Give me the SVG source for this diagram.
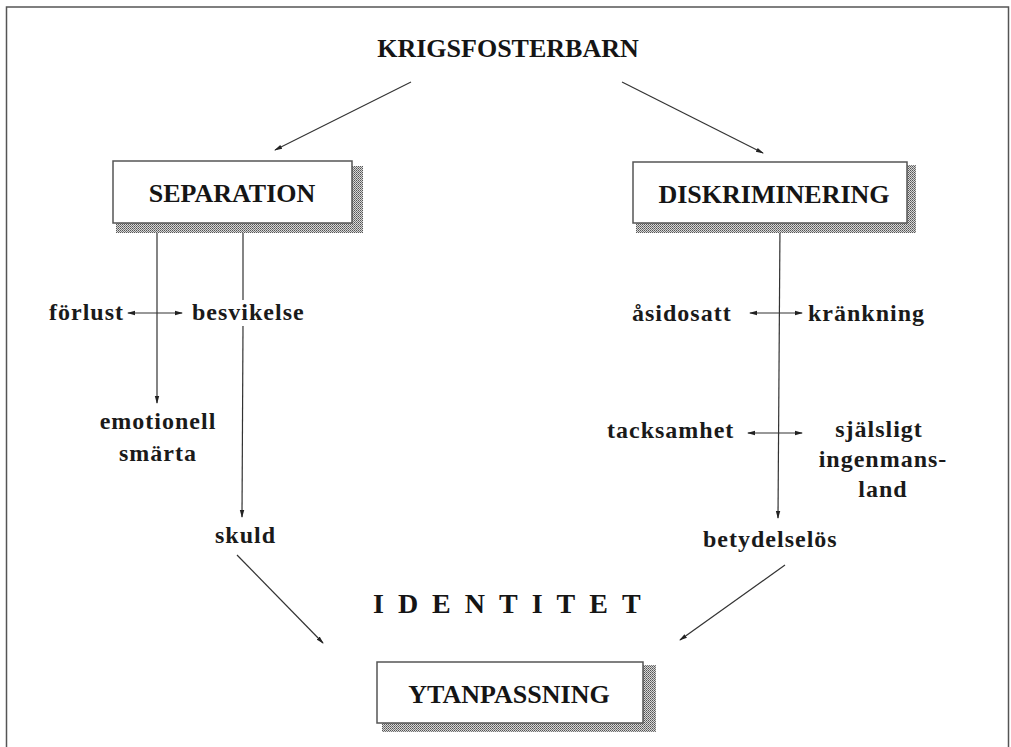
<svg xmlns="http://www.w3.org/2000/svg" width="1011" height="747" viewBox="0 0 1011 747">
<style>
.cap{font-family:"Liberation Serif","Times New Roman",serif;font-weight:bold;font-size:26px;fill:#151515}
.lbl{font-family:"Liberation Serif","Times New Roman",serif;font-weight:bold;font-size:24px;letter-spacing:1px;fill:#1a1a1a}
.box{fill:#fff;stroke:#555;stroke-width:1.5}
.shadow{fill:url(#stip)}
.con{stroke:#333;stroke-width:1.2;fill:none}
.arr{marker-end:url(#ah)}
.dbl{marker-start:url(#ahs);marker-end:url(#ah)}
</style>
<defs>
<pattern id="stip" width="2" height="2" patternUnits="userSpaceOnUse">
<rect width="2" height="2" fill="#d8d8d8"/>
<rect width="1" height="1" fill="#555"/>
<rect x="1" y="1" width="1" height="1" fill="#777"/>
</pattern>
<marker id="ah" viewBox="0 0 8 6" refX="7" refY="3" markerWidth="8" markerHeight="6" markerUnits="userSpaceOnUse" orient="auto">
<path d="M0,0.8 L8,3 L0,5.2 z" fill="#222"/>
</marker>
<marker id="ahs" viewBox="0 0 8 6" refX="1" refY="3" markerWidth="8" markerHeight="6" markerUnits="userSpaceOnUse" orient="auto">
<path d="M8,0.8 L0,3 L8,5.2 z" fill="#222"/>
</marker>
</defs>
<rect width="1011" height="747" fill="#fff"/>
<rect x="6.5" y="7" width="1002" height="800" fill="none" stroke="#555" stroke-width="1.5"/>

<g id="connectors">
<line class="con arr" x1="411" y1="82" x2="275" y2="150"/>
<line class="con arr" x1="622" y1="82" x2="763" y2="153"/>
<line class="con arr" x1="157" y1="224" x2="157" y2="403"/>
<line class="con" x1="243" y1="224" x2="243" y2="300"/>
<line class="con arr" x1="243" y1="326" x2="242" y2="517"/>
<line class="con dbl" x1="128" y1="313" x2="182" y2="313"/>
<line class="con arr" x1="780" y1="224" x2="778" y2="518"/>
<line class="con dbl" x1="750" y1="313" x2="802" y2="313"/>
<line class="con dbl" x1="748" y1="433" x2="802" y2="433"/>
<line class="con arr" x1="237" y1="555" x2="323" y2="643"/>
<line class="con arr" x1="785" y1="565" x2="680" y2="640"/>
</g>

<g id="krigsfosterbarn">
<text class="cap" x="508" y="57" text-anchor="middle">KRIGSFOSTERBARN</text>
</g>

<g id="separation">
<rect class="shadow" x="116" y="223" width="247" height="10"/>
<rect class="shadow" x="352" y="166" width="11" height="67"/>
<rect class="box" x="113" y="161" width="239" height="62"/>
<text class="cap" x="232" y="202" text-anchor="middle">SEPARATION</text>
</g>

<g id="diskriminering">
<rect class="shadow" x="636" y="223" width="280" height="10"/>
<rect class="shadow" x="907" y="165" width="9" height="68"/>
<rect class="box" x="633" y="162" width="274" height="61"/>
<text class="cap" x="774" y="203" text-anchor="middle">DISKRIMINERING</text>
</g>

<g id="ytanpassning">
<rect class="shadow" x="382" y="723" width="274" height="9"/>
<rect class="shadow" x="643" y="665" width="13" height="67"/>
<rect class="box" x="377" y="662" width="266" height="61"/>
<text class="cap" x="509" y="703" text-anchor="middle">YTANPASSNING</text>
</g>

<g id="forlust"><text class="lbl" x="49" y="320">förlust</text></g>
<g id="besvikelse"><text class="lbl" x="192" y="320">besvikelse</text></g>
<g id="emotionell-smarta">
<text class="lbl" x="158" y="429" text-anchor="middle">emotionell</text>
<text class="lbl" x="158" y="461" text-anchor="middle">smärta</text>
</g>
<g id="skuld"><text class="lbl" x="215" y="543">skuld</text></g>

<g id="asidosatt"><text class="lbl" x="632" y="321">åsidosatt</text></g>
<g id="krankning"><text class="lbl" x="808" y="321">kränkning</text></g>
<g id="tacksamhet"><text class="lbl" x="607" y="438">tacksamhet</text></g>
<g id="sjalsligt">
<text class="lbl" x="879" y="437" text-anchor="middle">själsligt</text>
<text class="lbl" x="883" y="467" text-anchor="middle">ingenmans-</text>
<text class="lbl" x="883" y="497" text-anchor="middle">land</text>
</g>
<g id="betydelselos"><text class="lbl" x="703" y="547">betydelselös</text></g>

<g id="identitet">
<text class="cap" x="373" y="613" style="font-size:28px;letter-spacing:14px">IDENTITET</text>
</g>
</svg>
